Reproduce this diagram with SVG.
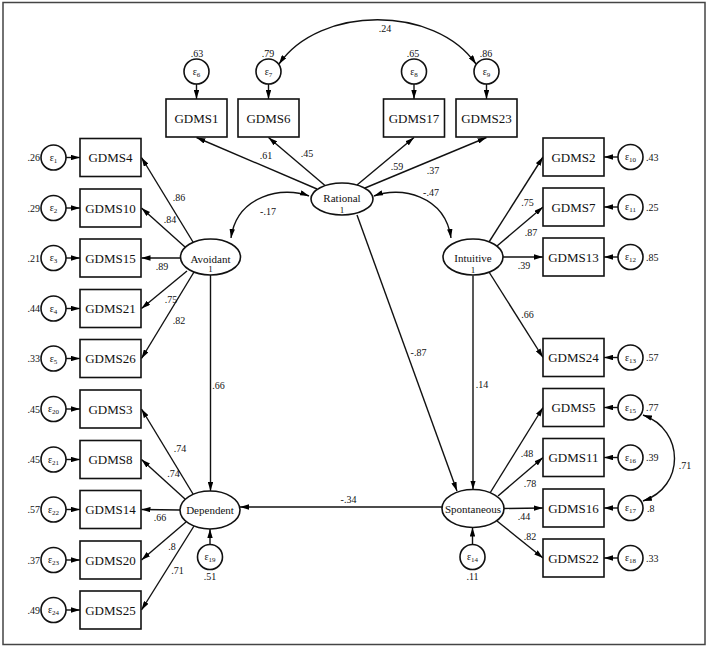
<svg xmlns="http://www.w3.org/2000/svg" width="709" height="648" viewBox="0 0 709 648">
<defs>
<marker id="ah" viewBox="0 0 10 6" refX="10" refY="3" markerWidth="9" markerHeight="5.5" orient="auto-start-reverse" markerUnits="userSpaceOnUse"><path d="M0,0 L10,3 L0,6 z" fill="#000"/></marker>
</defs>
<style>
.box{fill:#fff;stroke:#111;stroke-width:1.6}
.lv{fill:#fff;stroke:#111;stroke-width:1.6}
.err{fill:#fff;stroke:#111;stroke-width:1.6}
.c{fill:none;stroke:#111;stroke-width:1.4}
.a{fill:none;stroke:#111;stroke-width:1.4;marker-end:url(#ah)}
.aa{fill:none;stroke:#111;stroke-width:1.4;marker-end:url(#ah);marker-start:url(#ah)}
text{font-family:"Liberation Serif","Times New Roman",serif;fill:#111}
.bt{font-size:13px;text-anchor:middle}
.lt{font-size:11px;text-anchor:middle}
.one{font-size:9px;text-anchor:middle}
.n{font-size:10px;text-anchor:middle}
.ne{font-size:10px;text-anchor:end}
.ns{font-size:10px;text-anchor:start}
.et{font-size:10px;text-anchor:middle}
.sub{font-size:7px}
</style>
<rect x="3" y="2.5" width="702" height="642" fill="#fff" stroke="#444" stroke-width="1.5"/>

<g id="connectors">
<!-- top error arrows -->
<line class="a" x1="196.5" y1="84" x2="196.5" y2="99"/>
<line class="a" x1="268.5" y1="84" x2="268.5" y2="99"/>
<line class="a" x1="414" y1="84" x2="414" y2="99"/>
<line class="a" x1="486.5" y1="84" x2="486.5" y2="99"/>
<path class="aa" d="M279,64 C320,5 435,5 476,64"/>
<text class="n" x="385" y="32">.24</text>
<!-- Rational loadings -->
<line class="a" x1="317" y1="189" x2="196.5" y2="137.5"/>
<line class="a" x1="325" y1="185.5" x2="268.5" y2="137.5"/>
<line class="a" x1="357" y1="185" x2="414" y2="137.5"/>
<line class="a" x1="365" y1="188" x2="486.5" y2="137.5"/>
<text class="n" x="266" y="159">.61</text>
<text class="n" x="307" y="157">.45</text>
<text class="n" x="397" y="170">.59</text>
<text class="n" x="433" y="173.5">.37</text>
<!-- factor covariances -->
<path class="aa" d="M309,196 C283,186 237,195 231,238"/>
<text class="n" x="268" y="215">-.17</text>
<path class="aa" d="M374,196 C400,186 445,195 451,238"/>
<text class="n" x="431" y="196">-.47</text>
<!-- Avoidant loadings -->
<line class="a" x1="193" y1="242" x2="141.5" y2="157.5"/>
<line class="a" x1="185" y1="247" x2="141.5" y2="208"/>
<line class="a" x1="180.5" y1="258" x2="141.5" y2="258"/>
<line class="a" x1="187" y1="271" x2="141.5" y2="308.5"/>
<line class="a" x1="194" y1="272" x2="141.5" y2="358.5"/>
<text class="n" x="179" y="201">.86</text>
<text class="n" x="170" y="223">.84</text>
<text class="n" x="162" y="270">.89</text>
<text class="n" x="171" y="303">.75</text>
<text class="n" x="179" y="324">.82</text>
<!-- Avoidant -> Dependent -->
<line class="a" x1="210.5" y1="275" x2="210.5" y2="491"/>
<text class="n" x="218.5" y="388.5">.66</text>
<!-- Dependent loadings -->
<line class="a" x1="193" y1="494" x2="141.5" y2="409"/>
<line class="a" x1="185" y1="499" x2="141.5" y2="459.5"/>
<line class="a" x1="180" y1="510" x2="141.5" y2="509.5"/>
<line class="a" x1="186" y1="522" x2="141.5" y2="560"/>
<line class="a" x1="194" y1="526" x2="141.5" y2="610"/>
<text class="n" x="180" y="452">.74</text>
<text class="n" x="173.5" y="477">.74</text>
<text class="n" x="160" y="521">.66</text>
<text class="n" x="172" y="549.5">.8</text>
<text class="n" x="177.5" y="574">.71</text>
<line class="a" x1="210" y1="544.5" x2="210" y2="529"/>
<!-- Spontaneous -> Dependent -->
<line class="a" x1="442" y1="507" x2="240" y2="507"/>
<text class="n" x="348.5" y="503">-.34</text>
<!-- Rational -> Spontaneous -->
<line class="a" x1="357" y1="215" x2="457" y2="491"/>
<text class="n" x="418.5" y="356">-.87</text>
<!-- Intuitive -> Spontaneous -->
<line class="a" x1="473" y1="275.5" x2="473" y2="489.5"/>
<text class="n" x="482" y="387.5">.14</text>
<!-- Intuitive loadings -->
<line class="a" x1="489" y1="242" x2="543" y2="157"/>
<line class="a" x1="497" y1="246" x2="543" y2="207"/>
<line class="a" x1="503" y1="257" x2="543" y2="257"/>
<line class="a" x1="489" y1="272" x2="543" y2="357.5"/>
<text class="n" x="527.5" y="206">.75</text>
<text class="n" x="531" y="236">.87</text>
<text class="n" x="524" y="269">.39</text>
<text class="n" x="527.5" y="317.5">.66</text>
<!-- Spontaneous loadings -->
<line class="a" x1="490" y1="493" x2="543" y2="407.5"/>
<line class="a" x1="498" y1="496" x2="543" y2="457.5"/>
<line class="a" x1="504" y1="508.5" x2="543" y2="508"/>
<line class="a" x1="497" y1="521" x2="543" y2="558"/>
<text class="n" x="527" y="457">.48</text>
<text class="n" x="530" y="487">.78</text>
<text class="n" x="524" y="520">.44</text>
<text class="n" x="530" y="539.5">.82</text>
<line class="a" x1="472.5" y1="544.5" x2="472.5" y2="527.5"/>
<!-- left error arrows -->
<line class="a" x1="66" y1="157.5" x2="80" y2="157.5"/>
<line class="a" x1="66" y1="208" x2="80" y2="208"/>
<line class="a" x1="66" y1="258" x2="80" y2="258"/>
<line class="a" x1="66" y1="308.5" x2="80" y2="308.5"/>
<line class="a" x1="66" y1="358.5" x2="80" y2="358.5"/>
<line class="a" x1="66" y1="409" x2="80" y2="409"/>
<line class="a" x1="66" y1="459.5" x2="80" y2="459.5"/>
<line class="a" x1="66" y1="509.5" x2="80" y2="509.5"/>
<line class="a" x1="66" y1="560" x2="80" y2="560"/>
<line class="a" x1="66" y1="610" x2="80" y2="610"/>
<!-- right error arrows -->
<line class="a" x1="618" y1="157" x2="604" y2="157"/>
<line class="a" x1="618" y1="207" x2="604" y2="207"/>
<line class="a" x1="618" y1="257" x2="604" y2="257"/>
<line class="a" x1="618" y1="357.5" x2="604" y2="357.5"/>
<line class="a" x1="618" y1="407.5" x2="604" y2="407.5"/>
<line class="a" x1="618" y1="457.5" x2="604" y2="457.5"/>
<line class="a" x1="618" y1="508" x2="604" y2="508"/>
<line class="a" x1="618" y1="558" x2="604" y2="558"/>
<path class="aa" d="M643,415 C685,430 685,487 643,501"/>
<text class="n" x="685" y="468.5">.71</text>
</g>

<!-- latent variables -->
<g id="rational"><ellipse class="lv" cx="342" cy="199" rx="31" ry="16"/><text class="lt" x="342" y="202">Rational</text><text class="one" x="342" y="212.5">1</text></g>
<g id="avoidant"><ellipse class="lv" cx="210.5" cy="257" rx="30" ry="18"/><text class="lt" x="210.5" y="262.5">Avoidant</text><text class="one" x="210.5" y="272">1</text></g>
<g id="intuitive"><ellipse class="lv" cx="473" cy="257" rx="30" ry="18"/><text class="lt" x="473" y="262">Intuitive</text><text class="one" x="473" y="272.5">1</text></g>
<g id="dependent"><ellipse class="lv" cx="210" cy="510" rx="30" ry="19"/><text class="lt" x="210" y="514">Dependent</text></g>
<g id="spontaneous"><ellipse class="lv" cx="473" cy="508.5" rx="31" ry="19"/><text class="lt" x="473" y="513" font-size="11.5">Spontaneous</text></g>

<!-- top indicators -->
<g id="gdms1"><rect class="box" x="166" y="99" width="61" height="38"/><text class="bt" x="196.5" y="122.5">GDMS1</text></g>
<g id="gdms6"><rect class="box" x="238" y="99" width="61" height="38"/><text class="bt" x="268.5" y="122.5">GDMS6</text></g>
<g id="gdms17"><rect class="box" x="383.5" y="99" width="61" height="38"/><text class="bt" x="414" y="122.5">GDMS17</text></g>
<g id="gdms23"><rect class="box" x="456" y="99" width="61" height="38"/><text class="bt" x="486.5" y="122.5">GDMS23</text></g>
<g id="e6"><circle class="err" cx="196.5" cy="71.5" r="12.5"/><text class="et" x="196.5" y="74.5">ε<tspan class="sub" dy="2">6</tspan></text><text class="n" x="197" y="56.5">.63</text></g>
<g id="e7"><circle class="err" cx="268.5" cy="71.5" r="12.5"/><text class="et" x="268.5" y="74.5">ε<tspan class="sub" dy="2">7</tspan></text><text class="n" x="268" y="56.5">.79</text></g>
<g id="e8"><circle class="err" cx="414" cy="71.5" r="12.5"/><text class="et" x="414" y="74.5">ε<tspan class="sub" dy="2">8</tspan></text><text class="n" x="413" y="56.5">.65</text></g>
<g id="e9"><circle class="err" cx="486.5" cy="71.5" r="12.5"/><text class="et" x="486.5" y="74.5">ε<tspan class="sub" dy="2">9</tspan></text><text class="n" x="486" y="56.5">.86</text></g>

<!-- left indicators -->
<g id="gdms4"><rect class="box" x="80" y="138.5" width="61" height="38"/><text class="bt" x="110.5" y="162">GDMS4</text><circle class="err" cx="53.5" cy="157.5" r="12.5"/><text class="et" x="53.5" y="160.5">ε<tspan class="sub" dy="2">1</tspan></text><text class="ne" x="40" y="161">.26</text></g>
<g id="gdms10"><rect class="box" x="80" y="189" width="61" height="38"/><text class="bt" x="110.5" y="212.5">GDMS10</text><circle class="err" cx="53.5" cy="208" r="12.5"/><text class="et" x="53.5" y="211">ε<tspan class="sub" dy="2">2</tspan></text><text class="ne" x="40" y="211.5">.29</text></g>
<g id="gdms15"><rect class="box" x="80" y="239" width="61" height="38"/><text class="bt" x="110.5" y="262.5">GDMS15</text><circle class="err" cx="53.5" cy="258" r="12.5"/><text class="et" x="53.5" y="261">ε<tspan class="sub" dy="2">3</tspan></text><text class="ne" x="40" y="261.5">.21</text></g>
<g id="gdms21"><rect class="box" x="80" y="289.5" width="61" height="38"/><text class="bt" x="110.5" y="313">GDMS21</text><circle class="err" cx="53.5" cy="308.5" r="12.5"/><text class="et" x="53.5" y="311.5">ε<tspan class="sub" dy="2">4</tspan></text><text class="ne" x="40" y="312">.44</text></g>
<g id="gdms26"><rect class="box" x="80" y="339.5" width="61" height="38"/><text class="bt" x="110.5" y="363">GDMS26</text><circle class="err" cx="53.5" cy="358.5" r="12.5"/><text class="et" x="53.5" y="361.5">ε<tspan class="sub" dy="2">5</tspan></text><text class="ne" x="40" y="362">.33</text></g>
<g id="gdms3"><rect class="box" x="80" y="390" width="61" height="38"/><text class="bt" x="110.5" y="413.5">GDMS3</text><circle class="err" cx="53.5" cy="409" r="12.5"/><text class="et" x="53.5" y="412">ε<tspan class="sub" dy="2">20</tspan></text><text class="ne" x="40" y="412.5">.45</text></g>
<g id="gdms8"><rect class="box" x="80" y="440.5" width="61" height="38"/><text class="bt" x="110.5" y="464">GDMS8</text><circle class="err" cx="53.5" cy="459.5" r="12.5"/><text class="et" x="53.5" y="462.5">ε<tspan class="sub" dy="2">21</tspan></text><text class="ne" x="40" y="463">.45</text></g>
<g id="gdms14"><rect class="box" x="80" y="490.5" width="61" height="38"/><text class="bt" x="110.5" y="514">GDMS14</text><circle class="err" cx="53.5" cy="509.5" r="12.5"/><text class="et" x="53.5" y="512.5">ε<tspan class="sub" dy="2">22</tspan></text><text class="ne" x="40" y="513">.57</text></g>
<g id="gdms20"><rect class="box" x="80" y="541" width="61" height="38"/><text class="bt" x="110.5" y="564.5">GDMS20</text><circle class="err" cx="53.5" cy="560" r="12.5"/><text class="et" x="53.5" y="563">ε<tspan class="sub" dy="2">23</tspan></text><text class="ne" x="40" y="563.5">.37</text></g>
<g id="gdms25"><rect class="box" x="80" y="591" width="61" height="38"/><text class="bt" x="110.5" y="614.5">GDMS25</text><circle class="err" cx="53.5" cy="610" r="12.5"/><text class="et" x="53.5" y="613">ε<tspan class="sub" dy="2">24</tspan></text><text class="ne" x="40" y="613.5">.49</text></g>
<g id="e19"><circle class="err" cx="210" cy="557" r="12.5"/><text class="et" x="210" y="560">ε<tspan class="sub" dy="2">19</tspan></text><text class="n" x="210" y="580">.51</text></g>

<!-- right indicators -->
<g id="gdms2"><rect class="box" x="543" y="138" width="61" height="38"/><text class="bt" x="573.5" y="161.5">GDMS2</text><circle class="err" cx="630.5" cy="157" r="12.5"/><text class="et" x="630.5" y="160">ε<tspan class="sub" dy="2">10</tspan></text><text class="ns" x="646" y="160.5">.43</text></g>
<g id="gdms7"><rect class="box" x="543" y="188" width="61" height="38"/><text class="bt" x="573.5" y="211.5">GDMS7</text><circle class="err" cx="630.5" cy="207" r="12.5"/><text class="et" x="630.5" y="210">ε<tspan class="sub" dy="2">11</tspan></text><text class="ns" x="646" y="210.5">.25</text></g>
<g id="gdms13"><rect class="box" x="543" y="238" width="61" height="38"/><text class="bt" x="573.5" y="261.5">GDMS13</text><circle class="err" cx="630.5" cy="257" r="12.5"/><text class="et" x="630.5" y="260">ε<tspan class="sub" dy="2">12</tspan></text><text class="ns" x="646" y="260.5">.85</text></g>
<g id="gdms24"><rect class="box" x="543" y="338.5" width="61" height="38"/><text class="bt" x="573.5" y="362">GDMS24</text><circle class="err" cx="630.5" cy="357.5" r="12.5"/><text class="et" x="630.5" y="360.5">ε<tspan class="sub" dy="2">13</tspan></text><text class="ns" x="646" y="361">.57</text></g>
<g id="gdms5"><rect class="box" x="543" y="388.5" width="61" height="38"/><text class="bt" x="573.5" y="412">GDMS5</text><circle class="err" cx="630.5" cy="407.5" r="12.5"/><text class="et" x="630.5" y="410.5">ε<tspan class="sub" dy="2">15</tspan></text><text class="ns" x="646" y="411">.77</text></g>
<g id="gdms11"><rect class="box" x="543" y="438.5" width="61" height="38"/><text class="bt" x="573.5" y="462">GDMS11</text><circle class="err" cx="630.5" cy="457.5" r="12.5"/><text class="et" x="630.5" y="460.5">ε<tspan class="sub" dy="2">16</tspan></text><text class="ns" x="646" y="461">.39</text></g>
<g id="gdms16"><rect class="box" x="543" y="489" width="61" height="38"/><text class="bt" x="573.5" y="512.5">GDMS16</text><circle class="err" cx="630.5" cy="508" r="12.5"/><text class="et" x="630.5" y="511">ε<tspan class="sub" dy="2">17</tspan></text><text class="ns" x="647" y="511.5">.8</text></g>
<g id="gdms22"><rect class="box" x="543" y="539" width="61" height="38"/><text class="bt" x="573.5" y="562.5">GDMS22</text><circle class="err" cx="630.5" cy="558" r="12.5"/><text class="et" x="630.5" y="561">ε<tspan class="sub" dy="2">18</tspan></text><text class="ns" x="646" y="561.5">.33</text></g>
<g id="e14"><circle class="err" cx="472.5" cy="557" r="12.5"/><text class="et" x="472.5" y="560">ε<tspan class="sub" dy="2">14</tspan></text><text class="n" x="472.5" y="579.5">.11</text></g>
</svg>
